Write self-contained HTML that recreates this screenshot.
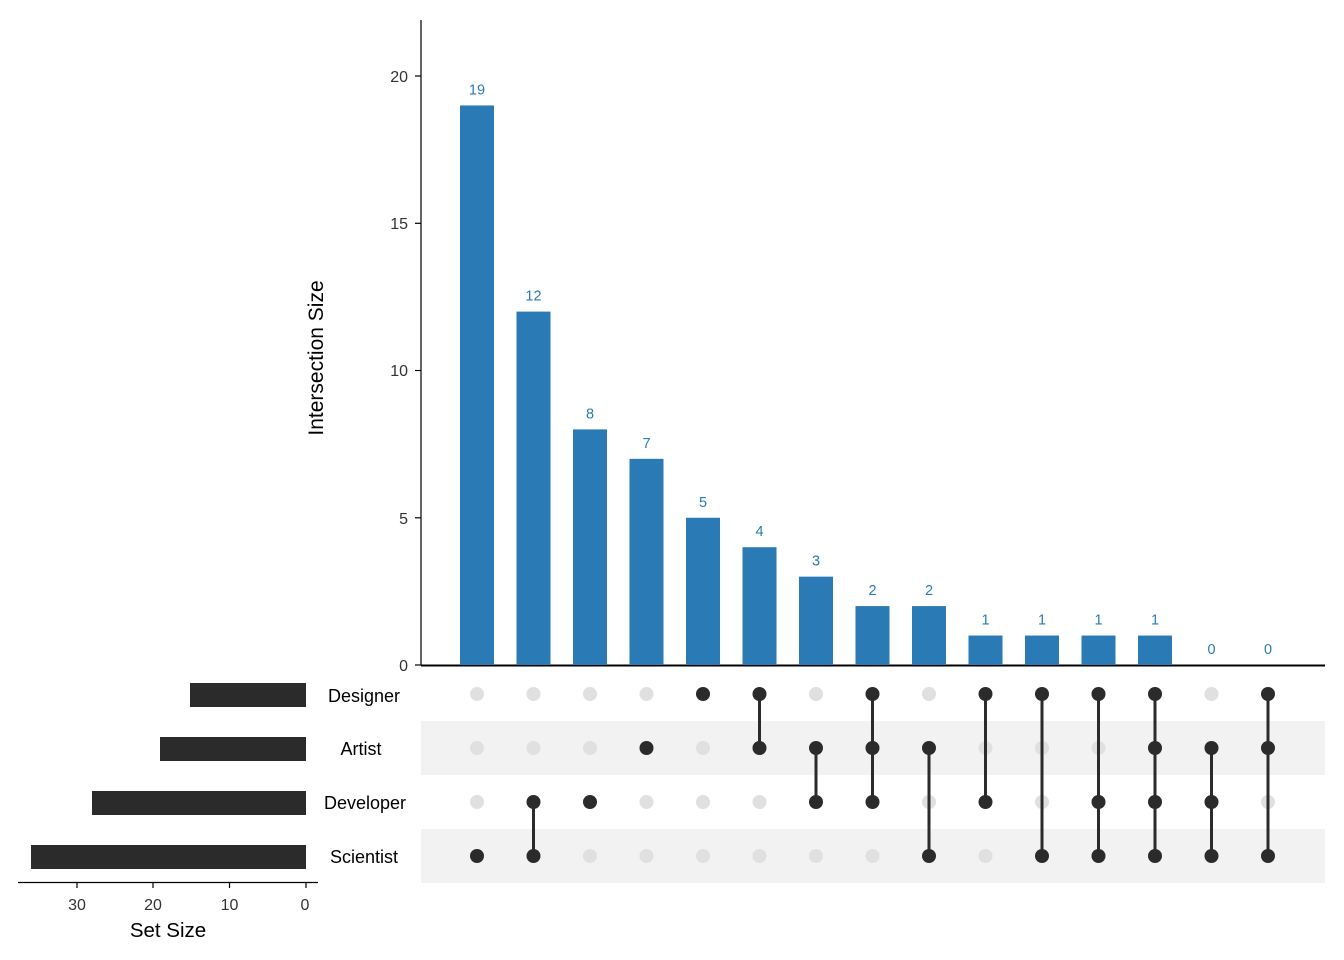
<!DOCTYPE html>
<html><head><meta charset="utf-8"><style>body{margin:0;background:#fff}svg{display:block}</style></head>
<body>
<svg width="1344" height="960" viewBox="0 0 1344 960" xmlns="http://www.w3.org/2000/svg" font-family="Liberation Sans, sans-serif">
<rect x="421" y="721" width="904" height="54" fill="#f2f2f2"/>
<rect x="421" y="829" width="904" height="54" fill="#f2f2f2"/>
<line x1="421" y1="20" x2="421" y2="665" stroke="#000" stroke-width="1.2"/>
<line x1="421" y1="665.5" x2="1325" y2="665.5" stroke="#000" stroke-width="2"/>
<g stroke="#000" stroke-width="1.2">
<line x1="415" y1="665" x2="421" y2="665"/><line x1="415" y1="517.8" x2="421" y2="517.8"/><line x1="415" y1="370.5" x2="421" y2="370.5"/><line x1="415" y1="223.3" x2="421" y2="223.3"/><line x1="415" y1="76" x2="421" y2="76"/>
</g>
<g font-size="16" fill="#333" text-anchor="end">
<text x="408" y="671">0</text><text x="408" y="524">5</text><text x="408" y="376">10</text><text x="408" y="229">15</text><text x="408" y="82">20</text>
</g>
<text transform="translate(323,358) rotate(-90)" font-size="21" text-anchor="middle" fill="#000">Intersection Size</text>
<g id="bars" fill="#2a7ab5"></g>
<g id="labels" fill="#2a7ab5" font-size="14.5" text-anchor="middle"></g>
<g id="matrix"></g>
<g fill="#2b2b2b">
<rect x="190" y="683" width="116" height="24"/>
<rect x="160" y="737" width="146" height="24"/>
<rect x="92" y="791" width="214" height="24"/>
<rect x="31" y="845" width="275" height="24"/>
</g>
<g font-size="18" fill="#000" text-anchor="middle">
<text x="364" y="702">Designer</text><text x="361" y="755">Artist</text><text x="365" y="809">Developer</text><text x="364" y="863">Scientist</text>
</g>
<line x1="18" y1="882.5" x2="318" y2="882.5" stroke="#000" stroke-width="1.2"/>
<g stroke="#000" stroke-width="1.2"><line x1="77" y1="882" x2="77" y2="888"/><line x1="153" y1="882" x2="153" y2="888"/><line x1="229.5" y1="882" x2="229.5" y2="888"/><line x1="306" y1="882" x2="306" y2="888"/></g>
<g font-size="16" fill="#333" text-anchor="middle"><text x="77" y="910">30</text><text x="153" y="910">20</text><text x="229.5" y="910">10</text><text x="305" y="910">0</text></g>
<text x="168" y="937" font-size="20.5" text-anchor="middle">Set Size</text>
<script>
var vals=[19,12,8,7,5,4,3,2,2,1,1,1,1,0,0];
var sets=[[3],[2,3],[2],[1],[0],[0,1],[1,2],[0,1,2],[1,3],[0,2],[0,3],[0,2,3],[0,1,2,3],[1,2,3],[0,1,3]];
var rows=[694,748,802,856];
var ns="http://www.w3.org/2000/svg";
function el(t,a,p){var e=document.createElementNS(ns,t);for(var k in a)e.setAttribute(k,a[k]);document.getElementById(p).appendChild(e);return e;}
for(var i=0;i<15;i++){
 var cx=477+56.5*i, s=29.45;
 if(vals[i]>0) el('rect',{x:cx-17,y:665-vals[i]*s,width:34,height:vals[i]*s},'bars');
 var t=el('text',{x:cx,y:665-vals[i]*s-11},'labels'); t.textContent=vals[i];
 for(var r=0;r<4;r++) if(sets[i].indexOf(r)<0) el('circle',{cx:cx,cy:rows[r],r:7,fill:'#e0e0e0'},'matrix');
 var mn=Math.min.apply(null,sets[i]),mx=Math.max.apply(null,sets[i]);
 if(mx>mn) el('line',{x1:cx,y1:rows[mn],x2:cx,y2:rows[mx],stroke:'#2b2b2b','stroke-width':3},'matrix');
 sets[i].forEach(function(r){el('circle',{cx:cx,cy:rows[r],r:7,fill:'#2b2b2b'},'matrix');});
}
</script>
</svg>
</body></html>
